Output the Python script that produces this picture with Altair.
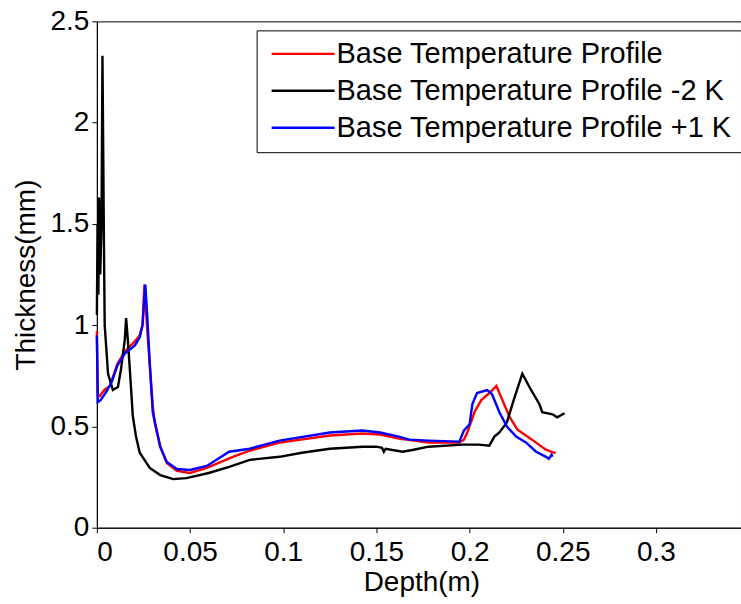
import altair as alt
import pandas as pd

series_names = ["Base Temperature Profile", "Base Temperature Profile -2 K", "Base Temperature Profile +1 K"]
series_colors = ["#ff0000", "#000000", "#0000ff"]

base_x = [0.0, 0.0005, 0.0016, 0.004, 0.007, 0.011, 0.015, 0.0204, 0.023, 0.0245, 0.0255, 0.0265,
          0.0284, 0.030, 0.031, 0.034, 0.0375, 0.043, 0.05, 0.059, 0.073, 0.082, 0.098, 0.125,
          0.1425, 0.152, 0.162, 0.178, 0.1945, 0.197, 0.199, 0.2026, 0.2063, 0.2106, 0.2144,
          0.2176, 0.2213, 0.2256, 0.231, 0.2357, 0.241, 0.2455, 0.246]
base_y = [0.97, 0.65, 0.65, 0.68, 0.70, 0.81, 0.87, 0.92, 0.95, 1.0, 1.2, 1.05,
          0.80, 0.60, 0.52, 0.40, 0.32, 0.28, 0.27, 0.295, 0.35, 0.38, 0.42, 0.455,
          0.465, 0.46, 0.44, 0.42, 0.42, 0.435, 0.475, 0.57, 0.63, 0.665, 0.70,
          0.63, 0.55, 0.485, 0.45, 0.42, 0.385, 0.37, 0.375]

minus2_x = [0.0, 0.0004, 0.0008, 0.0012, 0.0018, 0.0025, 0.003, 0.0034, 0.0038, 0.0042, 0.006,
            0.0086, 0.0113, 0.0129, 0.015, 0.0157, 0.0166, 0.0177, 0.0193, 0.021, 0.023, 0.0284,
            0.034, 0.041, 0.048, 0.06, 0.071, 0.082, 0.098, 0.11, 0.125, 0.1425, 0.15, 0.153,
            0.154, 0.155, 0.164, 0.17, 0.178, 0.196, 0.205, 0.2106, 0.2133, 0.216, 0.22, 0.224,
            0.2283, 0.233, 0.2375, 0.239, 0.2445, 0.247, 0.25, 0.251]
minus2_y = [1.05, 1.5, 1.15, 1.63, 1.25, 1.5, 2.33, 1.87, 1.4, 1.0, 0.76,
            0.68, 0.695, 0.78, 0.93, 1.035, 0.93, 0.78, 0.55, 0.45, 0.37, 0.295,
            0.26, 0.24, 0.245, 0.27, 0.30, 0.335, 0.35, 0.37, 0.39, 0.40, 0.40, 0.395,
            0.375, 0.39, 0.375, 0.385, 0.40, 0.41, 0.41, 0.405, 0.45, 0.47, 0.52, 0.64,
            0.76, 0.68, 0.61, 0.57, 0.56, 0.545, 0.56, 0.565]

plus1_x = [0.0, 0.0005, 0.002, 0.005, 0.008, 0.011, 0.015, 0.0204, 0.023, 0.0245, 0.026, 0.027,
           0.0284, 0.030, 0.034, 0.0375, 0.043, 0.05, 0.059, 0.071, 0.082, 0.098, 0.125, 0.1425,
           0.152, 0.162, 0.1677, 0.178, 0.1945, 0.197, 0.2, 0.2015, 0.204, 0.2095, 0.212, 0.216,
           0.22, 0.225, 0.2304, 0.2357, 0.241, 0.2425, 0.244, 0.2445]
plus1_y = [0.95, 0.62, 0.63, 0.67, 0.72, 0.80, 0.86, 0.90, 0.94, 1.0, 1.2, 1.05,
           0.81, 0.57, 0.40, 0.325, 0.29, 0.285, 0.305, 0.375, 0.39, 0.43, 0.47, 0.48,
           0.47, 0.45, 0.435, 0.43, 0.425, 0.48, 0.51, 0.61, 0.665, 0.68, 0.66, 0.57,
           0.50, 0.45, 0.42, 0.375, 0.35, 0.34, 0.36, 0.35]

x_ticks = [0, 0.05, 0.1, 0.15, 0.2, 0.25, 0.3]
y_ticks = [0, 0.5, 1, 1.5, 2, 2.5]

rows = []
for name, xs, ys in zip(series_names, [base_x, minus2_x, plus1_x], [base_y, minus2_y, plus1_y]):
    for i, (xv, yv) in enumerate(zip(xs, ys)):
        rows.append({"series": name, "depth": xv, "thickness": yv, "idx": i})
df = pd.DataFrame(rows)

FONT = "Liberation Sans"
FS = 28
W, H = 645, 507

xscale = alt.Scale(domain=[0, 645 / 1866], nice=False, zero=False)
yscale = alt.Scale(domain=[0, 2.5], nice=False, zero=False)

x_axis = alt.Axis(values=x_ticks, format="~g", ticks=True, tickSize=5, tickColor="black",
                  grid=False, domain=True, domainColor="black", domainWidth=1,
                  title="Depth(m)", labelFontSize=FS, labelFont=FONT, labelColor="black",
                  labelPadding=6,
                  titleFontSize=FS, titleFont=FONT, titleFontWeight="normal",
                  titleColor="black", titleX=325, titleY=63,
                  titleBaseline="alphabetic", titleAlign="center")
y_axis = alt.Axis(values=y_ticks, format="~g", ticks=True, tickSize=5, tickColor="black",
                  grid=False, domain=True, domainColor="black", domainWidth=1,
                  title="Thickness(mm)", labelFontSize=FS, labelFont=FONT, labelColor="black",
                  labelPadding=3,
                  titleFontSize=FS, titleFont=FONT, titleFontWeight="normal",
                  titleColor="black", titleAngle=270, titleX=-62, titleY=253.5,
                  titleBaseline="alphabetic", titleAlign="center")

chart = alt.Chart(df).mark_line(strokeWidth=2.4).encode(
    x=alt.X("depth:Q", scale=xscale, axis=x_axis),
    y=alt.Y("thickness:Q", scale=yscale, axis=y_axis),
    color=alt.Color("series:N",
                    scale=alt.Scale(domain=series_names, range=series_colors),
                    legend=alt.Legend(title=None, orient="none", legendX=160, legendY=9,
                                      direction="vertical", symbolType="M-0.81,0L5.19,0",
                                      symbolSize=441, symbolStrokeWidth=2.4,
                                      labelFont=FONT, labelFontSize=29, labelColor="black",
                                      labelLimit=600, labelOffset=42, rowPadding=7,
                                      fillColor="white", strokeColor="black", padding=9)),
    order="idx:Q",
).properties(
    width=W, height=H,
    autosize=alt.AutoSizeParams(type="none"),
    padding={"left": 97, "top": 21, "right": 0, "bottom": 76},
).configure_view(stroke="black", strokeWidth=1)

chart.save("out.html", embed_options={"renderer": "svg", "actions": False})
